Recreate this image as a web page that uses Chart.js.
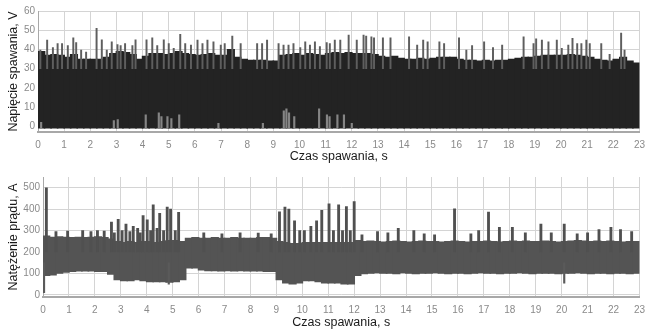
<!DOCTYPE html>
<html>
<head>
<meta charset="utf-8">
<title>Napięcie spawania i natężenie prądu</title>
<script src="https://cdn.jsdelivr.net/npm/chart.js"></script>
<style>
body { margin: 0; background: #fff; }
canvas { display: block; }
</style>
</head>
<body>
<canvas id="voltChart" width="652" height="165"></canvas>
<canvas id="currChart" width="652" height="166"></canvas>
<script>
// envelope in 0.25 s bins, 0 .. 23 s
const binStep = 0.25;
const timeTicks = [0, 23];

// top panel: voltage, V
const voltTop = [39,37,37.5,37,36,37.5,35,35,35,35,36,38,39,38.5,37.5,35,36.5,38,38,37.5,38,39,38,
    37.5,37,37.5,38,37,37,40,36,35,34.5,34.5,34.5,34,34,37,37.5,38,37,38,37.5,37,38,38.5,38,
    38.5,38,38,38,37.5,36.5,36,36.5,35.5,35,35,35.5,35,35.5,36,36,36,35,34.5,34.5,34,34.5,34,34.5,34.5,
    35,35.5,36,36,36.5,37,37,37,37,37.5,37,36.5,36,35,34.5,34,35,36,34,33];
const voltFloor = -1;
const voltSpikeT = [0.09,0.35,0.57,0.75,0.92,1.14,1.35,1.46,1.65,1.84,2.24,2.44,2.63,2.82,3.04,3.16,3.33,3.61,3.73,4.15,4.37,4.56,4.81,5.0,5.19,5.44,5.63,
    5.85,6.1,6.29,6.48,6.71,6.99,7.14,7.43,7.75,8.38,8.57,8.76,9.2,9.39,9.58,9.77,10.03,10.22,10.4,10.59,10.78,11.04,11.16,11.35,
    11.56,11.88,12.19,12.45,12.55,12.75,12.85,13.19,13.48,14.19,14.5,14.73,14.9,15.35,15.53,16.1,16.38,16.6,17.06,17.4,17.75,
    18.57,18.95,19.05,19.27,19.52,19.84,20.03,20.28,20.44,20.62,20.78,20.97,21.1,21.54,21.86,22.3,22.43];
const voltSpikeV = [39.6,44.9,41,43,43,42,46,43.5,39.6,38.6,51,45,39.6,44,42.5,42,43,42,45,45,46,42,45,43,40.5,47.8,43,
    42.3,44.9,43,44.9,44,42.3,43,47,43,43,43,44.9,43,42.3,42.3,43,41,44,42.3,44,41.5,43.5,43,44.9,
    44.9,47.5,44.9,47.5,47,46.5,46,46,46,46.5,42.3,44.9,44,44,43,46,39.6,42,44,41,42.3,
    46.5,43,45.5,44.9,44,44.9,40.5,42.3,45.8,43,43,44.9,43,43,37.5,48.5,39.6];
const voltLowT = [0.12,2.9,3.05,4.12,4.62,4.72,4.95,5.1,5.4,6.9,8.6,9.4,9.5,9.6,9.8,10.75,11.05,11.15,11.45,11.7,12.0];
const voltLowV = [2,3,3.5,6,7,5,5,4,6,1.5,1.5,8,9,7,5,9,6,5,6,6,1.5];

// bottom panel: current, A
const currHigh = [275,270,272,270,268,270,268,270,272,268,
    262,250,245,250,245,250,250,245,250,255,255,250,
    265,268,265,265,268,265,265,268,265,265,265,268,268,265,
    250,245,240,240,245,245,245,245,245,245,245,245,
    255,250,252,250,248,250,252,250,248,250,252,250,250,248,250,252,250,248,250,250,252,250,
    248,250,252,250,252,250,250,252,250,248,250,252,255,252,250,252,250,252,250,248,250,250];
const currLow = [90,92,100,105,108,110,110,110,108,108,
    95,70,65,65,70,65,60,60,60,58,60,70,
    125,125,115,112,112,110,112,110,112,110,110,110,108,108,
    70,55,50,55,65,65,60,55,55,55,50,50,
    90,98,100,102,100,100,98,102,100,98,100,100,102,100,98,100,100,98,100,102,100,100,
    98,100,100,102,100,98,100,100,100,98,100,100,102,100,98,100,100,98,100,100,98,100];
const currSpikeT = [0.13,0.5,0.95,1.53,1.85,2.1,2.36,
    2.64,2.75,2.9,3.05,3.2,3.35,3.48,3.65,3.75,3.86,4.02,4.15,4.25,4.4,4.5,4.65,4.79,4.92,5.1,5.23,
    6.2,6.9,7.6,8.3,8.8,
    9.12,9.33,9.48,9.7,9.9,10.08,10.33,10.55,10.75,11.03,11.2,11.4,11.55,11.7,11.85,12.0,
    12.3,12.9,13.3,13.7,14.3,14.7,15.1,15.87,16.5,16.8,17.18,17.6,18.1,18.6,19.2,19.6,20.1,20.6,21.0,21.44,21.9,22.27,22.7];
const currSpikeV = [500,295,298,300,295,300,298,
    340,290,352,300,330,295,320,310,290,370,350,300,420,310,380,300,410,400,300,385,
    290,285,290,288,285,
    387,410,400,345,300,300,320,345,395,425,300,420,300,412,300,435,
    280,295,290,310,300,285,280,402,285,300,386,315,315,290,330,290,330,285,290,305,315,305,295];
const currDownT = [0.04, 4.85, 20.1];
const currDownV = [10, 50, 55];

Chart.defaults.font.family = '"Liberation Sans", Arial, sans-serif';

function envelope(lows, highs) {
    return highs.map((h, i) => ({
        x: i * binStep + binStep / 2,
        y: [Array.isArray(lows) ? lows[i] : lows, h]
    }));
}
function marks(ts, vs, base) {
    return ts.map((t, i) => ({ x: t, y: [base, vs[i]] }));
}

function makePanel(id, opts) {
    return new Chart(document.getElementById(id), {
        type: 'bar',
        data: { datasets: opts.datasets },
        options: {
            responsive: false,
            animation: false,
            layout: { padding: { left: 0, right: 7, top: opts.padTop, bottom: 0 } },
            datasets: { bar: { grouped: false, borderWidth: 0 } },
            plugins: { legend: { display: false }, tooltip: { enabled: false } },
            scales: {
                x: {
                    type: 'linear',
                    min: timeTicks[0],
                    max: timeTicks[1],
                    offset: false,
                    grid: { color: '#d4d4d4', offset: false, drawTicks: false },
                    border: { color: '#a8a8a8', width: 2 },
                    ticks: { stepSize: 1, color: '#8a8a8a', font: { size: 10 }, padding: 7, maxRotation: 0 },
                    title: { display: true, text: 'Czas spawania, s', color: '#1a1a1a',
                             font: { size: 12.5 }, padding: { top: 0, bottom: 1 } },
                    afterFit: (axis) => { axis.height = opts.xHeight; }
                },
                y: {
                    min: opts.yMin,
                    max: opts.yMax,
                    grid: { color: '#d4d4d4', drawTicks: false },
                    border: { color: '#a8a8a8' },
                    ticks: { color: '#8a8a8a', font: { size: 10 }, padding: 3 },
                    afterBuildTicks: (axis) => { axis.ticks = opts.yTicks.map(v => ({ value: v })); },
                    title: { display: true, text: opts.yTitle, color: '#1a1a1a',
                             font: { size: 12.5 }, padding: { top: 6, bottom: 0 } },
                    afterFit: (axis) => { axis.width = opts.yWidth; }
                }
            }
        }
    });
}

makePanel('voltChart', {
    yMin: -3, yMax: 60, yTicks: [0, 10, 20, 30, 40, 50, 60],
    yTitle: 'Napięcie spawania, V', yWidth: 38, xHeight: 33, padTop: 11,
    datasets: [
        { data: marks(voltLowT, voltLowV, voltFloor), backgroundColor: '#858585', barThickness: 1.5, order: 1 },
        { data: marks(voltSpikeT, voltSpikeV, 30), backgroundColor: '#5e5e5e', barThickness: 1.3, order: 2 },
        { data: envelope(voltFloor, voltTop), backgroundColor: '#232323', barThickness: 7.5, order: 3 }
    ]
});

makePanel('currChart', {
    yMin: -10, yMax: 550, yTicks: [0, 100, 200, 300, 400, 500],
    yTitle: 'Natężenie prądu, A', yWidth: 43, xHeight: 34, padTop: 12,
    datasets: [
        { data: marks(currDownT, currDownV, 150), backgroundColor: '#5a5a5a', barThickness: 1.5, order: 1 },
        { data: marks(currSpikeT, currSpikeV, 200), backgroundColor: '#505050', barThickness: 2.2, order: 2 },
        { data: envelope(currLow, currHigh), backgroundColor: '#545454', barThickness: 7.5, order: 3 }
    ]
});
</script>
</body>
</html>
